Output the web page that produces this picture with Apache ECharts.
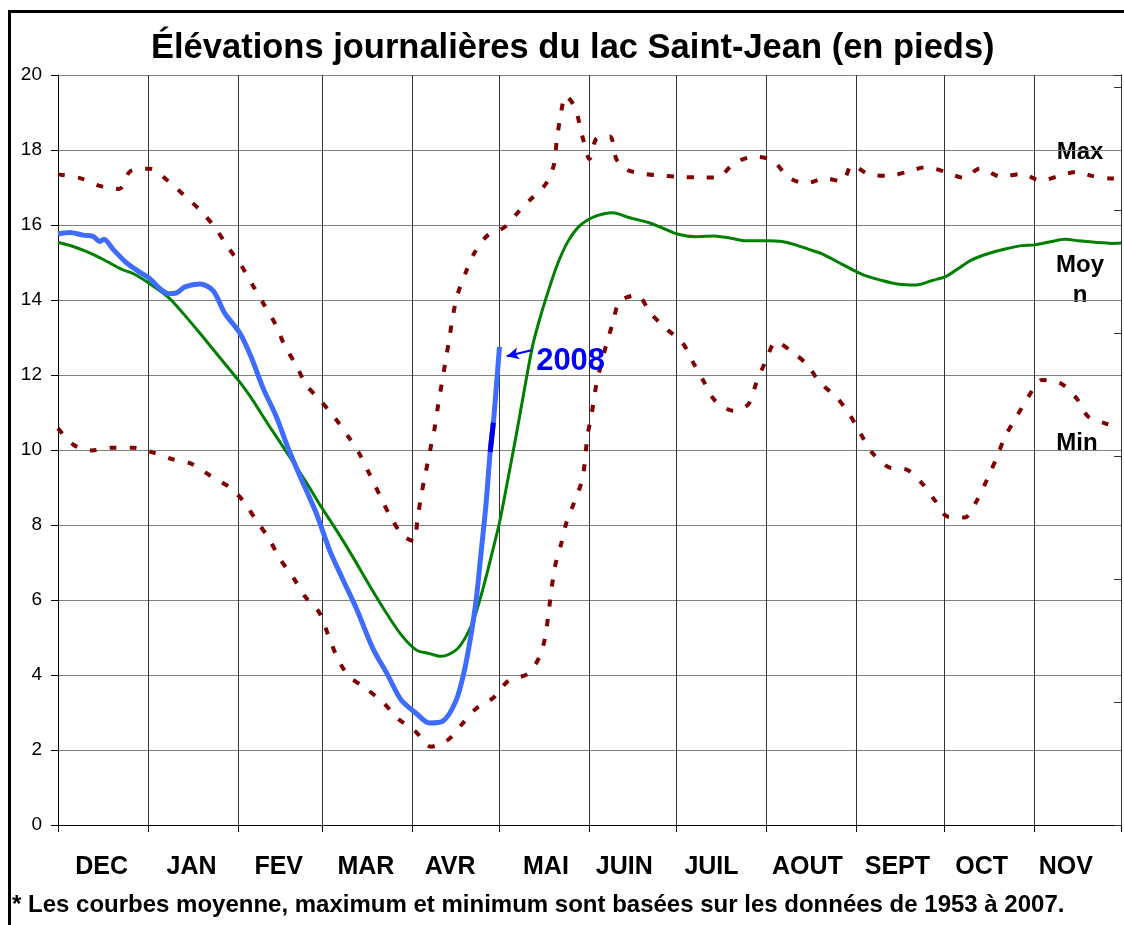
<!DOCTYPE html>
<html>
<head>
<meta charset="utf-8">
<title>Lac Saint-Jean</title>
<script src="https://cdn.jsdelivr.net/npm/echarts@6/dist/echarts.min.js"></script>
<style>
    html, body { margin: 0; padding: 0; background: #fff; }
    #chart { width: 1124px; height: 925px; }
</style>
</head>
<body>
<div id="chart"></div>
<script>
// mois de déc. 2007 à nov. 2008 (février bissextile)
var months = ['DEC', 'JAN', 'FEV', 'MAR', 'AVR', 'MAI', 'JUIN', 'JUIL', 'AOUT', 'SEPT', 'OCT', 'NOV'];
var monthDays = [31, 31, 29, 31, 30, 31, 30, 31, 31, 30, 31, 30];
// jour où chaque nom de mois est écrit
var monthLabelDays = [15, 46, 76, 106, 135, 168, 195, 225, 258, 289, 318, 347];
var feetTicks = [0, 20, 2];

// [jour depuis le 1er déc., élévation en pieds]
var maxLevels = [[0, 17.35], [7.6, 17.25], [14, 17.05], [21, 16.96], [25, 17.44], [31.6, 17.5], [38, 17.17],
    [43.7, 16.77], [49, 16.39], [54, 15.94], [58.6, 15.4], [63, 14.93], [67, 14.4], [71, 13.87], [75, 13.33],
    [78, 12.79], [82, 12.26], [85.5, 11.73], [90, 11.35], [95.2, 10.87], [100, 10.35], [104, 9.87], [107.6, 9.3],
    [111, 8.76], [114.5, 8.22], [118.7, 7.72], [122.5, 7.57], [123.7, 8.1], [125, 8.76], [126.5, 9.36], [128, 9.95],
    [129.6, 10.55], [131, 11.26], [132.2, 11.8], [133.4, 12.36], [134.8, 13.0], [136, 13.59], [137.6, 14.15],
    [140.3, 14.72], [143.4, 15.26], [148, 15.73], [153.7, 15.94], [158.3, 16.33], [162.8, 16.69], [168, 17.1],
    [170.8, 17.62], [171.7, 18.24], [173, 18.89], [174.8, 19.45], [178, 19.13], [180.6, 18.35], [183, 17.76],
    [185.5, 18.31], [190, 18.36], [192.3, 17.75], [196, 17.47], [202.4, 17.36], [206, 17.33], [212.7, 17.29],
    [220, 17.27], [227, 17.27], [232.7, 17.64], [239.6, 17.82], [246, 17.72], [251.6, 17.27], [257.4, 17.11],
    [264.2, 17.24], [270, 17.16], [273.4, 17.6], [279, 17.36], [286, 17.31], [292.5, 17.42], [298.7, 17.54],
    [305.5, 17.42], [311.8, 17.26], [317.5, 17.51], [324.7, 17.29], [331.8, 17.36], [338.5, 17.18], [344.6, 17.31],
    [351, 17.42], [355.9, 17.31], [363.3, 17.24], [366, 17.24]];

var moyLevels = [[0, 15.54], [4.7, 15.44], [9.9, 15.29], [15.6, 15.08], [21.9, 14.82], [26, 14.7], [30.7, 14.48],
    [38, 14.07], [43, 13.65], [48.8, 13.12], [54.5, 12.58], [62, 11.87], [66, 11.45], [72.9, 10.62], [79.5, 9.85],
    [86, 9.07], [90, 8.56], [95.8, 7.87], [101.5, 7.15], [107.3, 6.38], [113, 5.66], [118.2, 5.07], [123.3, 4.67],
    [127.9, 4.57], [131.9, 4.5], [137.1, 4.67], [140.5, 5.03], [143.4, 5.54], [146.8, 6.44], [149.7, 7.33],
    [152.1, 8.1], [154.8, 9.18], [157.7, 10.37], [160.6, 11.62], [163.5, 12.81], [166.3, 13.61], [169.2, 14.33],
    [172, 14.96], [175.5, 15.55], [179.5, 15.97], [184, 16.2], [188, 16.3], [191, 16.33], [196.6, 16.2],
    [203.5, 16.06], [207.5, 15.94], [213.2, 15.76], [219.6, 15.69], [225.8, 15.71], [232.1, 15.64], [236.7, 15.58],
    [244.2, 15.58], [249.3, 15.56], [253.9, 15.47], [258.5, 15.35], [263.1, 15.23], [268.8, 15.0], [274.6, 14.77],
    [278, 14.65], [283.2, 14.53], [289.5, 14.42], [295.5, 14.4], [301, 14.52], [305.8, 14.63], [310, 14.84],
    [314.6, 15.07], [320.4, 15.24], [326.1, 15.36], [331.8, 15.45], [336.4, 15.47], [342.2, 15.56], [346.7, 15.62],
    [351.3, 15.58], [357, 15.54], [362.8, 15.51], [366, 15.52]];

var minLevels = [[0, 10.58], [5.3, 10.14], [11.6, 9.99], [18.4, 10.06], [26, 10.06], [32.8, 9.93], [39.6, 9.75],
    [46, 9.63], [52.5, 9.31], [59, 9.01], [63.7, 8.65], [68.3, 8.12], [72.6, 7.64], [76.3, 7.11], [81, 6.6],
    [85, 6.1], [90, 5.66], [93, 5.07], [95.8, 4.53], [99.8, 4.0], [106, 3.64], [111.8, 3.28], [117, 2.84],
    [123, 2.5], [128.4, 2.09], [134.1, 2.26], [139, 2.68], [143.9, 3.1], [150, 3.4], [155, 3.84], [161.7, 4.03],
    [165.7, 4.47], [167.8, 5.03], [168.9, 5.66], [171, 6.85], [173.1, 7.45], [175, 8.05], [177.7, 8.6],
    [180.6, 9.24], [182.3, 10.37], [183.8, 10.99], [185.5, 11.8], [188.6, 12.76], [191, 13.38], [193.4, 13.96],
    [199.3, 14.13], [204.1, 13.64], [209.5, 13.23], [215, 12.86], [218.7, 12.33], [222.4, 11.82], [226.2, 11.32],
    [232.4, 11.05], [237.7, 11.22], [240.4, 11.78], [243.6, 12.36], [247.3, 12.89], [252.2, 12.65], [258, 12.27],
    [262.3, 11.8], [267.9, 11.42], [272.5, 10.95], [276.3, 10.44], [280.3, 9.93], [286, 9.54], [292.4, 9.47],
    [297.5, 9.11], [301.8, 8.67], [306.4, 8.22], [312.2, 8.2], [316, 8.6], [320.4, 9.3], [323.3, 9.82],
    [326.1, 10.36], [330.1, 10.89], [334.1, 11.42], [338.9, 11.87], [345.6, 11.76], [350.7, 11.38], [354.7, 10.89],
    [360.5, 10.71], [366, 10.6]];

var levels2008 = [[0, 15.76], [4, 15.8], [8.7, 15.73], [12, 15.7], [14.4, 15.56], [15.8, 15.62], [19, 15.35],
    [23.6, 14.99], [28, 14.75], [31.6, 14.57], [35, 14.31], [38, 14.17], [40.8, 14.19], [43.7, 14.35],
    [48.8, 14.43], [53.4, 14.25], [57.4, 13.65], [62.6, 13.12], [66.6, 12.46], [70.6, 11.65], [75, 10.92],
    [79.8, 9.94], [85, 9.01], [89, 8.3], [93.5, 7.33], [98, 6.56], [102.7, 5.78], [108.4, 4.71], [113.6, 3.99],
    [118.1, 3.34], [123.3, 2.98], [127.9, 2.72], [132.5, 2.77], [137, 3.31], [139.9, 4.11], [142.2, 5.07],
    [144, 6.02], [145.6, 7.21], [147.4, 8.58], [148.8, 9.95], [149.9, 10.73], [150.8, 11.56], [152, 12.75]];

var arrowFrom = [163, 12.66];
var arrowTo = [154.5, 12.5];
var label2008At = [176.5, 12.36];

var FONT = "'Liberation Sans', Arial, Helvetica, sans-serif";

// axe catégorie jour par jour : traits aux débuts de mois
var monthStarts = [0];
for (var i = 0; i < monthDays.length; i++) {
    monthStarts.push(monthStarts[i] + monthDays[i]);
}
var totalDays = monthStarts[monthStarts.length - 1];
var dayCats = [];
for (var d = 0; d <= totalDays; d++) {
    var m = monthLabelDays.indexOf(d);
    dayCats.push(m >= 0 ? months[m] : '');
}

function isStart(idx) { return monthStarts.indexOf(idx) >= 0; }
function isLabel(idx) { return monthLabelDays.indexOf(idx) >= 0; }

var darkPart = levels2008.filter(function (p) { return p[0] >= 148.5 && p[0] <= 150; });

var dotted = {type: [7, 13], width: 4, color: '#800000', cap: 'butt'};

var myChart = echarts.init(document.getElementById('chart'));

var option = {
    animation: false,
    backgroundColor: '#fff',
    title: {
        text: 'Élévations journalières du lac Saint-Jean (en pieds)',
        left: 146,
        top: 26,
        textStyle: {fontFamily: FONT, fontSize: 34.5, fontWeight: 'bold', color: '#000'}
    },
    grid: {left: 58, right: 3, top: 75, bottom: 100, containLabel: false},
    xAxis: [
        {
            type: 'value', min: 0, max: totalDays, show: false
        },
        {
            type: 'category',
            data: dayCats,
            boundaryGap: false,
            position: 'bottom',
            axisLine: {show: true, lineStyle: {color: '#000', width: 1}},
            axisTick: {show: true, length: 7, interval: isStart, lineStyle: {color: '#000'}},
            axisLabel: {
                interval: isLabel, margin: 30,
                fontFamily: FONT, fontSize: 25, fontWeight: 'bold', color: '#000'
            },
            splitLine: {show: true, interval: isStart, lineStyle: {color: '#333', width: 1}}
        }
    ],
    yAxis: [
        {
            type: 'value', min: feetTicks[0], max: feetTicks[1], interval: feetTicks[2],
            axisLine: {show: true, lineStyle: {color: '#000'}},
            axisTick: {show: true, length: 7, lineStyle: {color: '#000'}},
            axisLabel: {margin: 16, fontFamily: FONT, fontSize: 19, color: '#000'},
            splitLine: {show: true, lineStyle: {color: '#808080', width: 1}}
        },
        {
            // mètres, sans étiquettes
            type: 'value', position: 'right', min: 0, max: feetTicks[1] * 0.3048, interval: 1,
            axisLine: {show: true, lineStyle: {color: '#333'}},
            axisTick: {show: true, inside: true, length: 7, lineStyle: {color: '#333'}},
            axisLabel: {show: false},
            splitLine: {show: false}
        }
    ],
    graphic: [
        {
            type: 'rect', silent: true,
            shape: {x: 9.5, y: 11.5, width: 1300, height: 1100},
            style: {fill: null, stroke: '#000', lineWidth: 3}
        },
        {
            type: 'text', x: 12, y: 905,
            style: {
                text: '* Les courbes moyenne, maximum et minimum sont basées sur les données de 1953 à 2007.',
                font: 'bold 24px ' + FONT, fill: '#000', textVerticalAlign: 'middle'
            }
        },
        {
            type: 'text', x: 1080, y: 152,
            style: {text: 'Max', font: 'bold 24px ' + FONT, fill: '#000', textAlign: 'center', textVerticalAlign: 'middle'}
        },
        {
            type: 'text', x: 1080, y: 280,
            style: {text: 'Moy\nn', font: 'bold 24px ' + FONT, lineHeight: 30, fill: '#000', textAlign: 'center', textVerticalAlign: 'middle'}
        },
        {
            type: 'text', x: 1077, y: 443,
            style: {text: 'Min', font: 'bold 24px ' + FONT, fill: '#000', textAlign: 'center', textVerticalAlign: 'middle'}
        }
    ],
    series: [
        {
            name: 'Max', type: 'line', xAxisIndex: 0, yAxisIndex: 0,
            data: maxLevels, showSymbol: false, smooth: 0.3,
            lineStyle: dotted, z: 2
        },
        {
            name: 'Min', type: 'line', xAxisIndex: 0, yAxisIndex: 0,
            data: minLevels, showSymbol: false, smooth: 0.3,
            lineStyle: dotted, z: 2
        },
        {
            name: 'Moyenne', type: 'line', xAxisIndex: 0, yAxisIndex: 0,
            data: moyLevels, showSymbol: false, smooth: 0.3,
            lineStyle: {color: '#008000', width: 3}, z: 3
        },
        {
            name: '2008', type: 'line', xAxisIndex: 0, yAxisIndex: 0,
            data: levels2008, showSymbol: false, smooth: 0.3,
            lineStyle: {color: '#3d6cff', width: 5}, z: 4,
            markLine: {
                silent: true, symbol: ['none', 'arrow'], symbolSize: [9, 12],
                lineStyle: {color: '#0000ff', width: 2, type: 'solid'},
                label: {show: false},
                data: [[{coord: arrowFrom}, {coord: arrowTo}]]
            },
            markPoint: {
                silent: true, symbol: 'rect', symbolSize: 1,
                itemStyle: {color: 'rgba(0,0,0,0)'},
                label: {
                    show: true, position: 'inside', formatter: '2008',
                    fontFamily: FONT, fontSize: 31, fontWeight: 'bold', color: '#0000ff'
                },
                data: [{coord: label2008At}]
            }
        },
        {
            name: '2008b', type: 'line', xAxisIndex: 0, yAxisIndex: 0,
            data: darkPart, showSymbol: false,
            lineStyle: {color: '#0000e6', width: 5}, z: 5
        }
    ]
};

myChart.setOption(option);
</script>
</body>
</html>
